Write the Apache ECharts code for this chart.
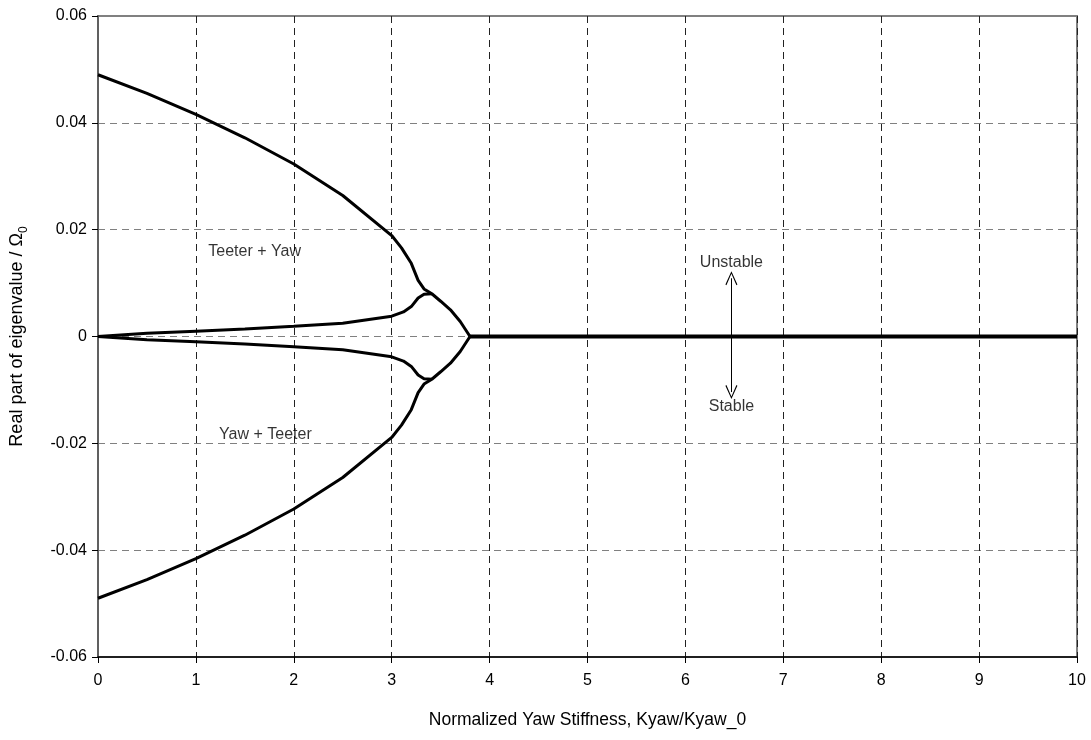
<!DOCTYPE html>
<html>
<head>
<meta charset="utf-8">
<script src="https://cdn.jsdelivr.net/npm/echarts@6/dist/echarts.min.js"></script>
<style>
html,body{margin:0;padding:0;background:#fff;}
#chart{width:1091px;height:740px;}
</style>
</head>
<body>
<div id="chart"></div>
<script>
// Data (x = normalized yaw stiffness, y = real part / Omega0)
const outerUpper = [[0,0.049],[0.5,0.0455],[1,0.0416],[1.5,0.0372],[2,0.0323],[2.5,0.0264],[3,0.0189],[3.1,0.0166],[3.2,0.0137],[3.27,0.0105],[3.33,0.0089],[3.41,0.0080],[3.5,0.0066],[3.6,0.0050],[3.7,0.0028],[3.8,0]];
const innerUpper = [[0,0],[0.5,0.0006],[1,0.0010],[1.5,0.0014],[2,0.0019],[2.5,0.0025],[3,0.0038],[3.12,0.0046],[3.2,0.0056],[3.27,0.0072],[3.33,0.0079],[3.41,0.0080]];
const outerLower = outerUpper.map(p => [p[0], -p[1]]);
const innerLower = innerUpper.map(p => [p[0], -p[1]]);
const zeroLine = [[3.8,0],[10,0]];
const xTicks = [0,1,2,3,4,5,6,7,8,9,10];
const yTicks = [-0.06,-0.04,-0.02,0,0.02,0.04,0.06];
const textLabels = [
  {name:'Teeter + Yaw', value:[1.6,0.0159]},
  {name:'Yaw + Teeter', value:[1.71,-0.0184]},
  {name:'Unstable', value:[6.47,0.0139]},
  {name:'Stable', value:[6.47,-0.0131]}
];
const arrowX = 6.47;
const arrowTop = 0.0109;
const arrowBottom = -0.0104;

const FONT = '"Liberation Sans Narrow","Arial Narrow","Liberation Sans",Arial,sans-serif';
const chevron = 'path://M0,0 L6,12 L5,12.6 L0,2.2 L-5,12.6 L-6,12 Z';

const chart = echarts.init(document.getElementById('chart'), null, {renderer:'canvas'});
const lineBase = {type:'line', showSymbol:false, symbol:'none', smooth:false, silent:true,
  lineStyle:{color:'#000', width:3}, z:5};

chart.setOption({
  animation:false,
  backgroundColor:'#fff',
  grid:{left:97, right:14, top:16, bottom:83, show:true, borderColor:'#808080', borderWidth:2, backgroundColor:'transparent'},
  xAxis:{
    type:'value', min:0, max:10, interval:1,
    name:'Normalized Yaw Stiffness, Kyaw/Kyaw_0', nameLocation:'middle', nameGap:54,
    nameTextStyle:{fontFamily:FONT, fontSize:17.5, color:'#000'},
    axisLine:{show:true, onZero:false, lineStyle:{color:'#000', width:1.5}},
    axisTick:{show:true, length:6, lineStyle:{color:'#000'}},
    axisLabel:{fontFamily:FONT, fontSize:16, color:'#000', margin:16, formatter:v => xTicks.includes(v) ? String(v) : ''},
    splitLine:{show:true, lineStyle:{color:'#222', type:[7,5], width:1}}
  },
  yAxis:{
    type:'value', min:-0.06, max:0.06, interval:0.02,
    name:'{a|Real part of eigenvalue / Ω}{s|0}', nameLocation:'middle', nameGap:72, nameRotate:90,
    nameTextStyle:{fontFamily:FONT, fontSize:18, color:'#000',
      rich:{a:{fontFamily:FONT, fontSize:18, color:'#000'}, s:{fontFamily:FONT, fontSize:12, color:'#000', verticalAlign:'bottom', padding:[0,0,-4,0]}}},
    axisLine:{show:true, onZero:false, lineStyle:{color:'#606060', width:2}},
    axisTick:{show:true, length:6, lineStyle:{color:'#000'}},
    axisLabel:{fontFamily:FONT, fontSize:16, color:'#000', margin:11,
      formatter:v => { const r = Math.round(v*100)/100; const t = yTicks.find(y => Math.abs(y-r)<1e-9); return t===undefined ? '' : (r===0 ? '0' : r.toFixed(2)); }},
    splitLine:{show:true, lineStyle:{color:'#808080', type:[7,5], width:1}}
  },
  series:[
    Object.assign({}, lineBase, {name:'outerUpper', data:outerUpper}),
    Object.assign({}, lineBase, {name:'innerUpper', data:innerUpper}),
    Object.assign({}, lineBase, {name:'outerLower', data:outerLower}),
    Object.assign({}, lineBase, {name:'innerLower', data:innerLower}),
    Object.assign({}, lineBase, {name:'zero', data:zeroLine, lineStyle:{color:'#000', width:4}}),
    {
      type:'scatter', name:'labels', symbolSize:0, silent:true, z:6,
      data:textLabels,
      label:{show:true, position:'inside', formatter:p => p.name, fontFamily:FONT, fontSize:16, color:'#000'},
      markLine:{
        silent:true, symbol:[chevron, chevron], symbolSize:[12,14], symbolOffset:0,
        label:{show:false},
        lineStyle:{color:'#000', width:1, type:'solid'},
        data:[[{coord:[arrowX, arrowBottom]},{coord:[arrowX, arrowTop]}]]
      }
    }
  ]
});
</script>
</body>
</html>
